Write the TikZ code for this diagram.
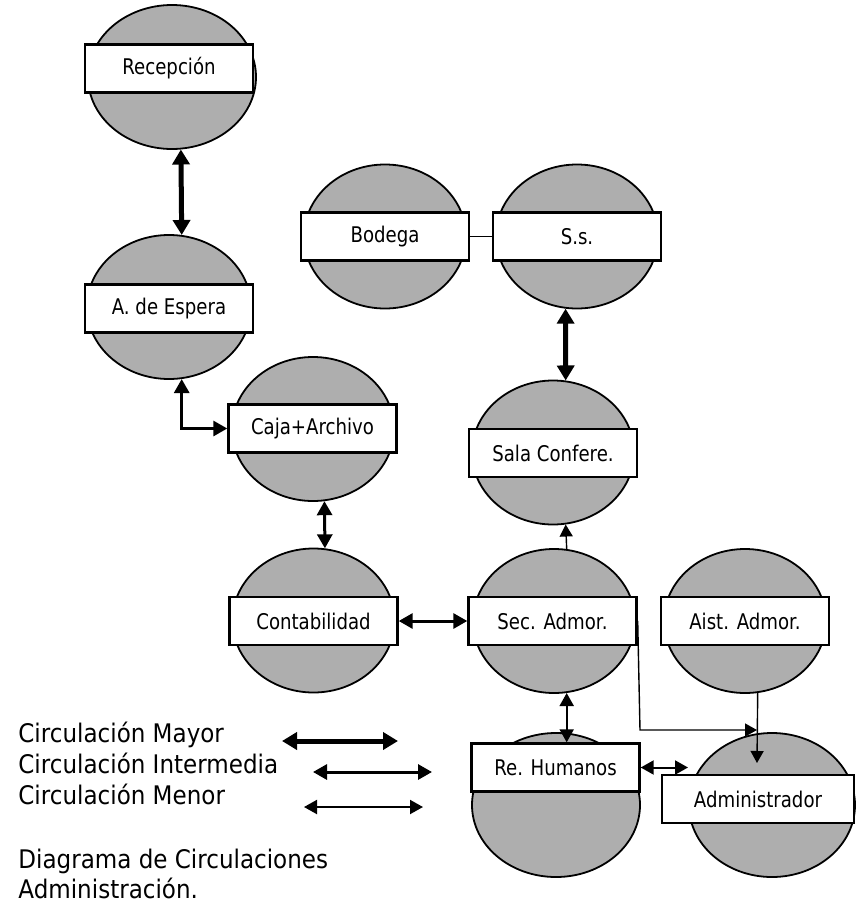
\documentclass[tikz,border=0pt]{standalone}
\usepackage{fontspec}
\setmainfont{DejaVu Sans}[FakeStretch=0.9]
\newfontfamily\roomfont{DejaVu Sans}[FakeStretch=0.84]
\usetikzlibrary{arrows.meta, shapes.geometric}
\definecolor{roomgray}{RGB}{174, 174, 174}

\begin{document}
\begin{tikzpicture}[
    x=0.5pt, y=-0.5pt,
    room/.style={ellipse, draw, line width=0.9pt, fill=roomgray, inner sep=0pt, minimum width=81pt, minimum height=72pt},
    label/.style={rectangle, draw, line width=1.2pt, fill=white, inner sep=0pt, minimum width=84pt, minimum height=24pt, font=\roomfont\fontsize{10.8pt}{12pt}\selectfont},
    legend/.style={anchor=base west, inner sep=0pt, font=\fontsize{12.8pt}{15pt}\selectfont},
    mayor/.style={{Triangle[length=7.5pt,width=8.5pt]}-{Triangle[length=7.5pt,width=8.5pt]}, line width=2.5pt},
    intermedia/.style={{Triangle[length=7pt,width=7.5pt]}-{Triangle[length=7pt,width=7.5pt]}, line width=1.5pt},
    menor/.style={{Triangle[length=6.5pt,width=7pt]}-{Triangle[length=6.5pt,width=7pt]}, line width=1pt},
    simple/.style={-{Triangle[length=6pt,width=6.5pt]}, line width=0.7pt}
]
\useasboundingbox (0,0) rectangle (861,905);

% === Espacios (elipses) ===
\node[room, minimum width=84pt] (recep) at (172, 77) {};
\node[room, minimum width=82pt] (espera) at (169, 307) {};
\node[room] (bodega) at (385, 236.5) {};
\node[room] (ss) at (577, 236.5) {};
\node[room] (caja) at (313, 429) {};
\node[room] (sala) at (553, 452.5) {};
\node[room] (contab) at (313.5, 620.5) {};
\node[room] (sec) at (554, 621) {};
\node[room] (aist) at (745, 621) {};
\node[room, minimum width=84pt] (rrhh) at (556, 805) {};
\node[room, minimum width=83pt] (admin) at (772, 805) {};

% === Etiquetas ===
\node[label] (recepL) at (169, 68.5) {Recepción};
\node[label] (esperaL) at (169, 308.5) {A. de Espera};
\node[label] (bodegaL) at (385, 236.5) {Bodega};
\node[label] (ssL) at (577, 236.5) {S.s.};
\node[label] (cajaL) at (312.5, 428.5) {Caja+Archivo};
\node[label] (salaL) at (553, 453) {Sala Confere.};
\node[label] (contabL) at (313.5, 621) {Contabilidad};
\node[label] (secL) at (552.5, 621) {Sec. Admor.};
\node[label] (aistL) at (745, 621) {Aist. Admor.};
\node[label] (rrhhL) at (555.5, 767.5) {Re. Humanos};
\node[label, minimum width=96pt] (adminL) at (758, 799) {Administrador};

% === Circulaciones ===
\coordinate (bend) at (640, 730);
\coordinate (join) at (757, 730);
\coordinate (admtip) at (757, 763);
\coordinate (rhend) at (688, 767.5);

\draw[mayor] (recep.-83) -- (espera.80);
\draw[mayor] (ss.-99) -- (sala.80);
\draw[intermedia] (espera.-80) |- (cajaL.west);
\draw[intermedia] (caja.-81) -- (contab.81);
\draw[intermedia] (contabL.east) -- (secL.west);
\draw[menor] (sec.-80) -- (sec.-80 |- rrhhL.north);
\draw[menor] (rrhhL.east) -- (rhend);
\draw[line width=0.6pt] (bodegaL.east) -- (ssL.west);
\draw[simple] (sec.80) -- (sala.-80);
\draw[simple] (secL.east) -- (bend) -- (join);
\draw[simple] (aist.-80) -- (admtip);

% === Leyenda ===
\node[legend] (legMay) at (18, 742) {Circulación Mayor};
\node[legend] (legInt) at (18, 773) {Circulación Intermedia};
\node[legend] (legMen) at (18, 804) {Circulación Menor};
\node[legend] (tit1) at (18, 868) {Diagrama de Circulaciones};
\node[legend] (tit2) at (18, 898) {Administración.};

\coordinate (mayA) at (282, 741);
\coordinate (mayB) at (398, 741);
\coordinate (intA) at (313, 772);
\coordinate (intB) at (432, 772);
\coordinate (menA) at (304, 807);
\coordinate (menB) at (423, 807);
\draw[mayor] (mayA) -- (mayB);
\draw[intermedia] (intA) -- (intB);
\draw[menor] (menA) -- (menB);

\end{tikzpicture}
\end{document}
